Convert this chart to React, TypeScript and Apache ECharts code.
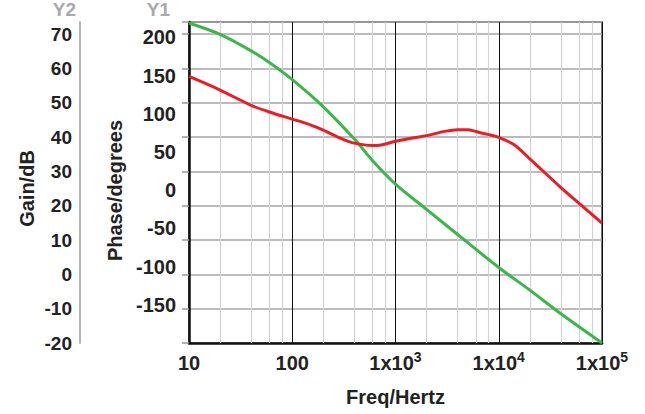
import React, { useEffect, useRef } from "react";
import * as echarts from "echarts";

// ---- data ----
const gainFreqs = [10, 20, 40, 60, 100, 200, 400, 600, 1000, 2000, 4000, 10000, 20000, 40000, 100000];
const gainDb = [73.2, 69.9, 65.1, 61.7, 56.7, 48.8, 39.4, 33.1, 26.3, 18.9, 11.6, 2.0, -4.6, -11.5, -20];

const phaseFreqs = [10, 20, 40, 60, 100, 150, 200, 300, 400, 600, 700, 800, 1000, 1500, 2000, 3000, 4000, 5000, 6000, 8000, 10000, 14000, 20000, 40000, 60000, 100000];
const phaseDeg = [148.7, 131.0, 111.0, 102.3, 93.0, 85.5, 78.5, 67.5, 61.5, 58.3, 58.8, 60.3, 64.0, 68.5, 71.3, 76.9, 79.1, 79.1, 76.8, 72.6, 69.1, 59.6, 40.9, 3.4, -17.3, -43.1];

const xTickValues = [10, 100, 1000, 10000, 100000];
const xTickBase = ["10", "100", "1x10", "1x10", "1x10"];
const xTickExp = ["", "", "3", "4", "5"];
const minorFreqs = [20, 40, 60, 80, 200, 400, 600, 800, 2000, 4000, 6000, 8000, 20000, 40000, 60000, 80000];

const FONT = '"Liberation Sans", Arial, Helvetica, sans-serif';
const GREEN = "#3cb54a";
const RED = "#ec1c24";
const TXT = "#222";
const NAMEGRAY = "#a9a9ad";

export default function App() {
  const ref = useRef<HTMLDivElement>(null);
  useEffect(() => {
    if (!ref.current) return;
    const chart = echarts.init(ref.current, null, { renderer: "svg" });
    const bold = { fontFamily: FONT, fontWeight: "bold" as const, color: TXT };
    chart.setOption({
      animation: false,
      backgroundColor: "#fff",
      grid: {
        left: 189,
        right: 43,
        top: 21,
        bottom: 71,
        show: true,
        borderColor: "#444",
        borderWidth: 1.5,
        backgroundColor: "transparent",
      },
      xAxis: {
        type: "log",
        logBase: 10,
        min: 10,
        max: 100000,
        splitNumber: 4,
        name: "Freq/Hertz",
        nameLocation: "middle",
        nameGap: 44,
        nameTextStyle: { ...bold, fontSize: 20 },
        axisLine: { show: true, onZero: false, lineStyle: { color: "#111", width: 2.5 } },
        axisTick: { show: false },
        splitLine: { show: true, lineStyle: { color: "#111", width: 1 } },
        axisLabel: {
          ...bold,
          fontSize: 20,
          margin: 8,
          formatter: (v: number) => {
            const i = xTickValues.findIndex((t) => Math.abs(Math.log10(t) - Math.log10(v)) < 1e-6);
            if (i < 0) return "";
            return `{b|${xTickBase[i]}}` + (xTickExp[i] ? `{sup|${xTickExp[i]}}` : "");
          },
          rich: {
            b: { fontFamily: FONT, fontWeight: "bold", color: TXT, fontSize: 20, lineHeight: 22, verticalAlign: "bottom" },
            sup: { fontFamily: FONT, fontWeight: "bold", color: TXT, fontSize: 14, lineHeight: 14, verticalAlign: "bottom", padding: [0, 0, 9, 0] },
          },
        },
      },
      yAxis: [
        {
          type: "value",
          min: -20,
          max: 73.5,
          interval: 10,
          position: "left",
          offset: 109,
          axisLine: { show: true, onZero: false, lineStyle: { color: "#b4b4b8", width: 2 } },
          axisTick: { show: false },
          splitLine: { show: false },
          axisLabel: { ...bold, fontSize: 19, margin: 8, showMaxLabel: false },
          name: "Y2",
          nameLocation: "end",
          nameGap: 3,
          nameTextStyle: { fontFamily: FONT, fontWeight: "bold", fontSize: 19, color: NAMEGRAY, align: "right", padding: [0, 4, 0, 0] },
        },
        {
          type: "value",
          min: -200,
          max: 220,
          interval: 50,
          position: "left",
          offset: 0,
          axisLine: { show: false },
          axisTick: { show: false },
          splitLine: { show: false },
          axisLabel: { ...bold, fontSize: 20, margin: 13, showMinLabel: false, showMaxLabel: false },
          name: "Phase/degrees",
          nameLocation: "middle",
          nameGap: 57,
          nameRotate: 90,
          nameTextStyle: { ...bold, fontSize: 20, padding: [0, 16, 0, 0] },
        },
        {
          type: "value",
          min: -20,
          max: 73.5,
          interval: 10,
          position: "left",
          offset: 0,
          axisLine: { show: true, onZero: false, lineStyle: { color: "#111", width: 2.5 } },
          axisTick: { show: true, inside: false, length: 7, lineStyle: { color: "#9a9a9e", width: 1.5 } },
          axisLabel: { show: false },
          splitLine: { show: true, lineStyle: { color: "#a4a4a8", width: 1.5 } },
          name: "Y1",
          nameLocation: "end",
          nameGap: 3,
          nameTextStyle: { fontFamily: FONT, fontWeight: "bold", fontSize: 19, color: NAMEGRAY, align: "right", padding: [0, 19, 0, 0] },
        },
        {
          type: "value",
          min: -20,
          max: 73.5,
          position: "left",
          offset: 109,
          axisLine: { show: false },
          axisTick: { show: false },
          axisLabel: { show: false },
          splitLine: { show: false },
          name: "Gain/dB",
          nameLocation: "middle",
          nameGap: 43,
          nameRotate: 90,
          nameTextStyle: { ...bold, fontSize: 20, padding: [0, 12, 0, 0] },
        },
      ],
      series: [
        {
          type: "line",
          yAxisIndex: 2,
          data: [],
          z: 1,
          silent: true,
          markLine: {
            silent: true,
            symbol: "none",
            label: { show: false },
            lineStyle: { color: "#d2d2d4", width: 1.2, type: "solid" },
            data: minorFreqs.map((f) => ({ xAxis: f })),
          },
        },
        {
          type: "line",
          name: "Gain",
          yAxisIndex: 2,
          data: gainFreqs.map((f, i) => [f, gainDb[i]]),
          smooth: 0.3,
          showSymbol: false,
          lineStyle: { color: GREEN, width: 3 },
          itemStyle: { color: GREEN },
          z: 5,
        },
        {
          type: "line",
          name: "Phase",
          yAxisIndex: 1,
          data: phaseFreqs.map((f, i) => [f, phaseDeg[i]]),
          smooth: 0.3,
          showSymbol: false,
          lineStyle: { color: RED, width: 3 },
          itemStyle: { color: RED },
          z: 5,
        },
      ],
    });
    return () => chart.dispose();
  }, []);
  return <div ref={ref} style={{ position: "fixed", left: 0, top: 0, width: 645, height: 414 }} />;
}
